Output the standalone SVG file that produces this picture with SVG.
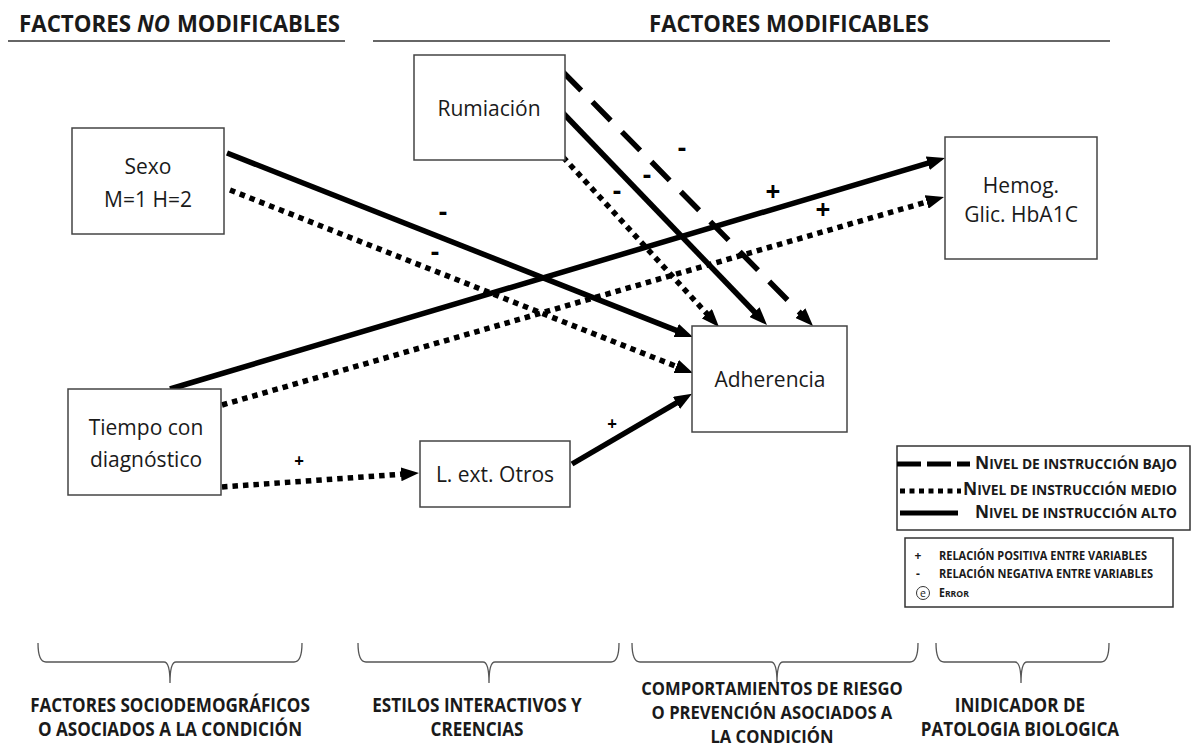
<svg xmlns="http://www.w3.org/2000/svg" width="1198" height="748" viewBox="0 0 1198 748">
<style>
text{font-family:"Open Sans","Liberation Sans",sans-serif;fill:#1a1a1a}
.title{font-size:24px;font-weight:700}
.node rect{fill:#fff;stroke:#444;stroke-width:1.5}
.lbl{font-size:21px;text-anchor:middle}
.c{fill:none;stroke:#000;stroke-width:5.5}
.dot{stroke-dasharray:5.5 5}
.dash{stroke-dasharray:26 16}
.sign{font-size:26px;font-weight:700;text-anchor:middle;fill:#000}
.sm{font-size:17px;font-weight:700;text-anchor:middle;fill:#000}
.brace{fill:none;stroke:#555;stroke-width:1.3}
.cat{font-size:19px;font-weight:700;text-anchor:middle}
.cat2{font-size:17.5px;font-weight:700;text-anchor:middle}
.lg{font-weight:700}
.leg rect{fill:#fff;stroke:#333;stroke-width:1.5}
</style>
<defs>
<marker id="ah" markerUnits="userSpaceOnUse" markerWidth="18" markerHeight="14" refX="2" refY="7" orient="auto">
<path d="M0,0 L18,7 L0,14 z" fill="#000"/>
</marker>
</defs>
<rect width="1198" height="748" fill="#fff"/>

<g id="headers">
<text class="title" x="19" y="32" textLength="112" lengthAdjust="spacingAndGlyphs">FACTORES</text>
<text class="title" x="137" y="32" font-style="italic" textLength="33" lengthAdjust="spacingAndGlyphs">NO</text>
<text class="title" x="177" y="32" textLength="163" lengthAdjust="spacingAndGlyphs">MODIFICABLES</text>
<line x1="8" y1="41" x2="345" y2="41" stroke="#333" stroke-width="1.5"/>
<text class="title" x="649" y="32" textLength="280" lengthAdjust="spacingAndGlyphs">FACTORES MODIFICABLES</text>
<line x1="373" y1="41" x2="1110" y2="41" stroke="#333" stroke-width="1.5"/>
</g>

<g id="connectors">
<line class="c" x1="227" y1="153" x2="678.1" y2="331.1" marker-end="url(#ah)"/>
<line class="c dot" x1="230" y1="190" x2="678.1" y2="367.1" marker-end="url(#ah)"/>
<line class="c dash" x1="563" y1="72" x2="801.8" y2="314.6" marker-end="url(#ah)"/>
<line class="c" x1="563" y1="113" x2="755.9" y2="313.5" marker-end="url(#ah)"/>
<line class="c dot" x1="563" y1="157" x2="708.2" y2="315.2" marker-end="url(#ah)"/>
<line class="c" x1="170" y1="389" x2="929.7" y2="162.6" marker-end="url(#ah)"/>
<line class="c dot" x1="222" y1="405" x2="928.6" y2="201.4" marker-end="url(#ah)"/>
<line class="c dot" x1="222" y1="487" x2="403" y2="474.1" marker-end="url(#ah)"/>
<line class="c" x1="572" y1="464" x2="678.2" y2="401.9" marker-end="url(#ah)"/>
<text class="sign" x="443" y="221">-</text>
<text class="sign" x="435" y="261">-</text>
<text class="sign" x="682" y="157">-</text>
<text class="sign" x="647" y="184">-</text>
<text class="sign" x="617" y="200">-</text>
<text class="sign" x="773" y="201">+</text>
<text class="sign" x="823" y="219">+</text>
<text class="sm" x="299" y="467">+</text>
<text class="sm" x="612" y="430">+</text>
</g>

<g id="sexo" class="node">
<rect x="72" y="128" width="152" height="106"/>
<text class="lbl" x="148" y="174">Sexo</text>
<text class="lbl" x="148" y="207">M=1 H=2</text>
</g>
<g id="rumiacion" class="node">
<rect x="414" y="55" width="151" height="105"/>
<text class="lbl" x="489" y="116">Rumiación</text>
</g>
<g id="hemog" class="node">
<rect x="945" y="137" width="152" height="122"/>
<text class="lbl" x="1021" y="193">Hemog.</text>
<text class="lbl" x="1021" y="222">Glic. HbA1C</text>
</g>
<g id="adherencia" class="node">
<rect x="692" y="326" width="155" height="106"/>
<text class="lbl" x="770" y="387">Adherencia</text>
</g>
<g id="tiempo" class="node">
<rect x="68" y="389" width="153" height="106"/>
<text class="lbl" x="146" y="435">Tiempo con</text>
<text class="lbl" x="146" y="467">diagnóstico</text>
</g>
<g id="lext" class="node">
<rect x="420" y="441" width="150" height="66"/>
<text class="lbl" x="495" y="482">L. ext. Otros</text>
</g>

<g id="legend" class="leg">
<rect x="897" y="446" width="293" height="84"/>
<line x1="897" y1="464" x2="970" y2="464" stroke="#000" stroke-width="5" stroke-dasharray="24 6"/>
<line x1="900" y1="491" x2="961" y2="491" stroke="#000" stroke-width="5" stroke-dasharray="5 4.5"/>
<line x1="900" y1="513" x2="958" y2="513" stroke="#000" stroke-width="5"/>
<text class="lg" x="975" y="469" textLength="202" lengthAdjust="spacingAndGlyphs"><tspan font-size="17">N</tspan><tspan font-size="13.5">IVEL DE INSTRUCCIÓN BAJO</tspan></text>
<text class="lg" x="963" y="495" textLength="214" lengthAdjust="spacingAndGlyphs"><tspan font-size="17">N</tspan><tspan font-size="13.5">IVEL DE INSTRUCCIÓN MEDIO</tspan></text>
<text class="lg" x="975" y="518" textLength="202" lengthAdjust="spacingAndGlyphs"><tspan font-size="17">N</tspan><tspan font-size="13.5">IVEL DE INSTRUCCIÓN ALTO</tspan></text>
<rect x="905" y="538" width="268" height="69"/>
<text class="lg" x="918" y="560" font-size="12" text-anchor="middle">+</text>
<text class="lg" x="939" y="560" font-size="11.5" textLength="208" lengthAdjust="spacingAndGlyphs">RELACIÓN POSITIVA ENTRE VARIABLES</text>
<text class="lg" x="918" y="578" font-size="12" text-anchor="middle">-</text>
<text class="lg" x="939" y="578" font-size="11.5" textLength="214" lengthAdjust="spacingAndGlyphs">RELACIÓN NEGATIVA ENTRE VARIABLES</text>
<circle cx="923" cy="593" r="6.5" fill="none" stroke="#333" stroke-width="1"/>
<text x="923" y="596.5" font-size="10.5" text-anchor="middle">e</text>
<text class="lg" x="939" y="597" textLength="30" lengthAdjust="spacingAndGlyphs"><tspan font-size="11.5">E</tspan><tspan font-size="9.5">RROR</tspan></text>
</g>

<g id="categories">
<path class="brace" d="M38,643 Q38,662 46,662 L164,662 Q170,662 170,683 Q170,662 176,662 L294,662 Q302,662 302,643"/>
<path class="brace" d="M358,643 Q358,662 366,662 L483,662 Q489,662 489,683 Q489,662 495,662 L611,662 Q619,662 619,643"/>
<path class="brace" d="M632,643 Q632,662 640,662 L771,662 Q777,662 777,683 Q777,662 783,662 L910,662 Q918,662 918,643"/>
<path class="brace" d="M936,643 Q936,662 944,662 L1015,662 Q1021,662 1021,683 Q1021,662 1027,662 L1101,662 Q1109,662 1109,643"/>
<g transform="scale(0.9,1)">
<text class="cat" x="188.9" y="712">FACTORES SOCIODEMOGRÁFICOS</text>
<text class="cat" x="188.9" y="736">O ASOCIADOS A LA CONDICIÓN</text>
<text class="cat" x="530" y="712">ESTILOS INTERACTIVOS Y</text>
<text class="cat" x="530" y="736">CREENCIAS</text>
<text class="cat" x="1133.3" y="712">INIDICADOR DE</text>
<text class="cat" x="1133.3" y="736">PATOLOGIA BIOLOGICA</text>
</g>
<g transform="scale(0.95,1)">
<text class="cat2" x="812.6" y="695">COMPORTAMIENTOS DE RIESGO</text>
<text class="cat2" x="812.6" y="719">O PREVENCIÓN ASOCIADOS A</text>
<text class="cat2" x="812.6" y="743">LA CONDICIÓN</text>
</g>
</g>
</svg>
